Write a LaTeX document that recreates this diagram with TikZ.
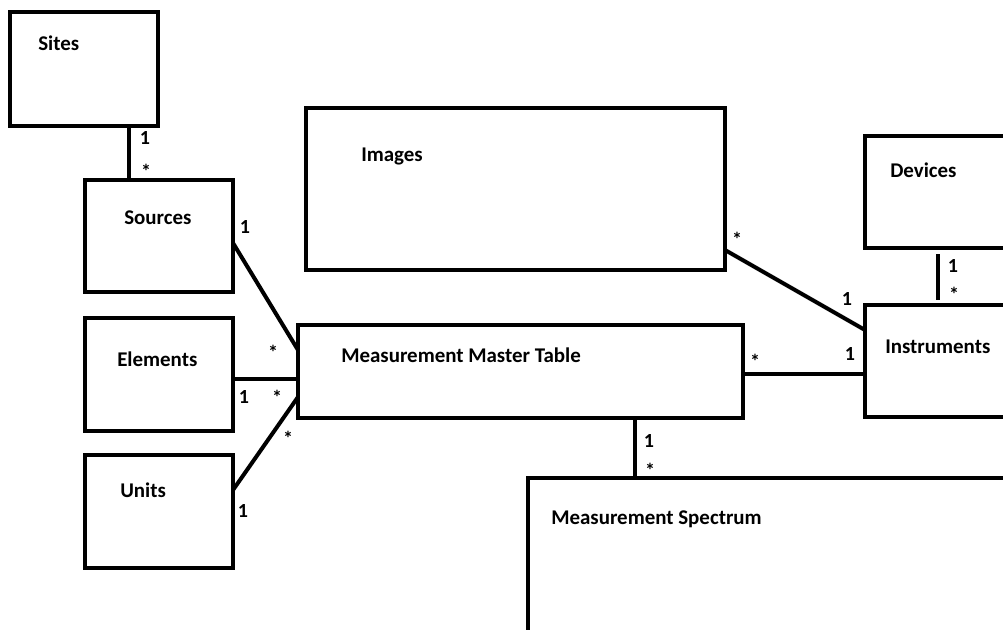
\documentclass[tikz,border=0pt]{standalone}
\usepackage{fontspec}
\setmainfont{Carlito}
\usetikzlibrary{calc}
\tikzset{
  entity/.style 2 args={draw, line width=3pt, rectangle, outer sep=0pt, inner sep=0pt, line join=miter,
    minimum width={#1*0.75pt}, minimum height={#2*0.75pt}},
  title/.style={anchor=mid west, inner sep=0pt, font=\bfseries\fontsize{15.7}{18}\selectfont},
  mult/.style={inner sep=0pt, font=\bfseries\fontsize{15}{17}\selectfont},
  link/.style={line width=3pt}
}
\begin{document}
\begin{tikzpicture}[x=0.75pt, y=-0.75pt]
\useasboundingbox (0,0) rectangle (1003,629);
\clip (0,0) rectangle (1003,629);

% entity boxes
\node[entity={148}{114}] (sites) at (84,69) {};
\node[entity={148}{112}] (sources) at (159,236) {};
\node[entity={148}{113}] (elements) at (159,374.5) {};
\node[entity={148}{113}] (units) at (159,511.5) {};
\node[entity={419}{162}] (images) at (515.5,189) {};
\node[entity={445}{93}] (mmt) at (520.5,371.5) {};
\node[entity={200}{112}] (devices) at (965,192) {};
\node[entity={200}{112}] (instruments) at (965,361) {};
\node[entity={522}{222}] (spectrum) at (789,589) {};

% entity titles
\node[title] (sitesT) at (38,47) {Sites};
\node[title] (sourcesT) at (124,221) {Sources};
\node[title] (elementsT) at (117,363) {Elements};
\node[title] (unitsT) at (120,494) {Units};
\node[title] (imagesT) at (361,158) {Images};
\node[title] (mmtT) at (341,359) {Measurement Master Table};
\node[title] (devicesT) at (890,174) {Devices};
\node[title] (instrumentsT) at (885,350) {Instruments};
\node[title] (spectrumT) at (551,521) {Measurement Spectrum};

% relationships
\draw[link] ($(sites.south east)+(-29,0)$) -- ($(sources.north west)+(44,0)$);
\draw[link] ($(sources.east)+(0,7)$) -- ($(mmt.west)+(0,-21.5)$);
\draw[link] ($(elements.east)+(0,4.5)$) coordinate (e1) -- (e1 -| mmt.west);
\draw[link] ($(units.east)+(0,-21.5)$) -- ($(mmt.west)+(0,25.5)$);
\draw[link] ($(images.east)+(0,61)$) -- ($(instruments.west)+(0,-31)$);
\draw[link] ($(mmt.east)+(0,2.5)$) coordinate (m1) -- (m1 -| instruments.west);
\draw[link] ($(devices.south)+(-27,6)$) -- ($(instruments.north)+(-27,-5)$);
\draw[link] ($(mmt.south)+(114.5,0)$) coordinate (m2) -- (m2 |- spectrum.north);

% multiplicities
\node[mult] (m-si-1) at (145,138) {1};
\node[mult] (m-si-2) at (146,171) {*};
\node[mult] (m-so-1) at (245,227) {1};
\node[mult] (m-so-2) at (273,352) {*};
\node[mult] (m-el-1) at (244,397) {1};
\node[mult] (m-el-2) at (277,397) {*};
\node[mult] (m-un-2) at (288,438) {*};
\node[mult] (m-un-1) at (243,511) {1};
\node[mult] (m-im-2) at (737,239) {*};
\node[mult] (m-im-1) at (847,299) {1};
\node[mult] (m-in-2) at (755,361) {*};
\node[mult] (m-in-1) at (850,354) {1};
\node[mult] (m-de-1) at (953,266) {1};
\node[mult] (m-de-2) at (954,294) {*};
\node[mult] (m-sp-1) at (649,441) {1};
\node[mult] (m-sp-2) at (650,470) {*};
\end{tikzpicture}
\end{document}
